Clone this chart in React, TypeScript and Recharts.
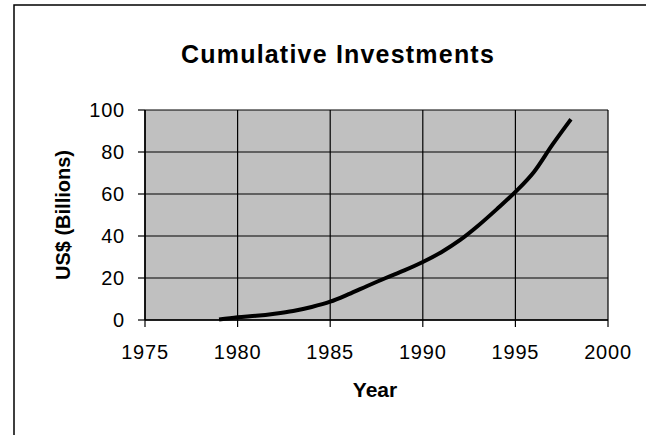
import React from "react";
import { LineChart, Line, XAxis, YAxis, CartesianGrid } from "recharts";

const years = [1979, 1980, 1981, 1982, 1983, 1984, 1985, 1986, 1987, 1988, 1989, 1990, 1991, 1992, 1993, 1994, 1995, 1996, 1997, 1998];
const investments = [0.2, 1.3, 2.0, 3.0, 4.3, 6.2, 8.7, 12.3, 16.2, 20.0, 23.6, 27.6, 32.3, 38.0, 45.0, 52.8, 61.0, 70.5, 83.5, 95.6];
const xTicks = [1975, 1980, 1985, 1990, 1995, 2000];
const yTicks = [0, 20, 40, 60, 80, 100];
const chartTitle = "Cumulative Investments";
const xTitle = "Year";
const yTitle = "US$ (Billions)";

const data = years.map((y, i) => ({ year: y, value: investments[i] }));

const FONT = "'Liberation Sans', Arial, sans-serif";

export default function App() {
  return (
    <div style={{ position: "absolute", left: 0, top: 0, width: 646, height: 435, background: "#fff" }}>
      <LineChart
        width={646}
        height={435}
        data={data}
        margin={{ top: 110, right: 38, bottom: 85, left: 85 }}
      >
        <rect x={14} y={5} width={700} height={500} fill="none" stroke="#000" strokeWidth={1.5} />
        <CartesianGrid fill="#C0C0C0" fillOpacity={1} stroke="#000" strokeWidth={1.2} />
        <XAxis
          type="number"
          dataKey="year"
          domain={[1975, 2000]}
          ticks={xTicks}
          interval={0}
          height={30}
          tickSize={7}
          tickMargin={18}
          axisLine={{ stroke: "#000", strokeWidth: 1.5 }}
          tickLine={{ stroke: "#000", strokeWidth: 1.2 }}
          tick={{ fill: "#000", fontSize: 20, fontFamily: FONT, letterSpacing: 0.8 }}
        />
        <YAxis
          type="number"
          domain={[0, 100]}
          ticks={yTicks}
          interval={0}
          width={60}
          tickSize={7}
          tickMargin={13}
          axisLine={{ stroke: "#000", strokeWidth: 1.5 }}
          tickLine={{ stroke: "#000", strokeWidth: 1.2 }}
          tick={{ fill: "#000", fontSize: 20, fontFamily: FONT, letterSpacing: 0.8 }}
        />
        <Line
          type="monotone"
          dataKey="value"
          stroke="#000"
          strokeWidth={4}
          dot={false}
          isAnimationActive={false}
        />
        <text x={338} y={63} textAnchor="middle" fontFamily={FONT} fontWeight="bold" fontSize={25} letterSpacing={1.2} fill="#000">
          {chartTitle}
        </text>
        <text x={375} y={397} textAnchor="middle" fontFamily={FONT} fontWeight="bold" fontSize={21} fill="#000">
          {xTitle}
        </text>
        <text
          x={0}
          y={0}
          transform="translate(70,215) rotate(-90)"
          textAnchor="middle"
          fontFamily={FONT}
          fontWeight="bold"
          fontSize={20}
          fill="#000"
        >
          {yTitle}
        </text>
      </LineChart>
    </div>
  );
}
